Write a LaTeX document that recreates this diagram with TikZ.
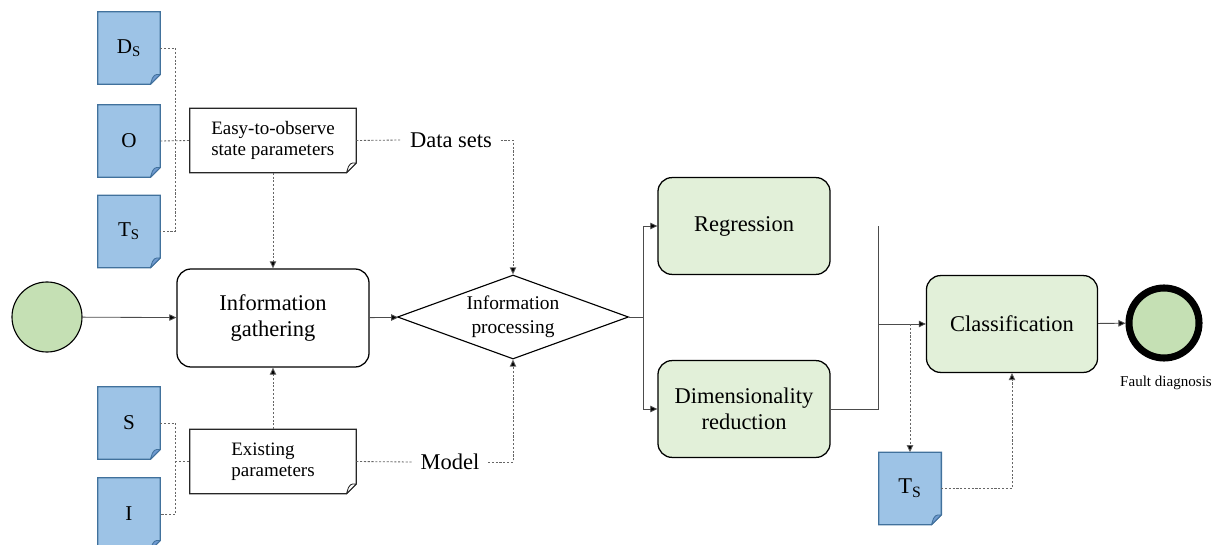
\documentclass[tikz,border=0pt]{standalone}
\usepackage{fontspec}
\setmainfont{Liberation Serif}
\usetikzlibrary{arrows.meta,shapes.geometric,backgrounds}

\definecolor{docfill}{HTML}{9DC3E6}
\definecolor{docline}{HTML}{41719C}
\definecolor{docfold}{HTML}{6F9AD0}
\definecolor{stepfill}{HTML}{E2F0D9}
\definecolor{termfill}{HTML}{C5E0B4}

% page outline with a folded bottom-right corner, drawn behind a named node
\newcommand\pageoutline[5]{% node, fill, line, fold fill, line width
  \filldraw[fill=#2, draw=#3, line width=#5, line join=miter]
    (#1.north west) -- (#1.north east) -- ([yshift=7pt]#1.south east)
    -- ([xshift=-7pt]#1.south east) -- (#1.south west) -- cycle;
  \filldraw[fill=#4, draw=#3, line width=0.6pt, line join=round]
    ([yshift=7pt]#1.south east) -- ([xshift=-7pt]#1.south east)
    -- ([xshift=-5.6pt,yshift=4.4pt]#1.south east)
    .. controls ([xshift=-4pt,yshift=6.6pt]#1.south east) .. ([xshift=-2.5pt,yshift=7pt]#1.south east) -- cycle;
}

\begin{document}
\begin{tikzpicture}[x=0.025cm, y=-0.025cm,
  >={Triangle[length=5pt,width=4.6pt]},
  docnode/.style={minimum width=1.55cm, minimum height=1.8cm, inner sep=0pt,
    font=\fontsize{15}{18}\selectfont},
  notebox/.style={minimum width=4.15cm, minimum height=1.6cm, inner sep=0pt,
    align=left, font=\fontsize{13.5}{15}\selectfont},
  stepbox/.style={draw=black, line width=0.9pt, rounded corners=10pt,
    minimum width=4.3cm, minimum height=2.42cm, align=center,
    font=\fontsize{16}{18.5}\selectfont},
  plainlabel/.style={font=\fontsize{16}{18}\selectfont, inner sep=6pt},
  flow/.style={draw=black!70, line width=0.6pt},
  flowarrow/.style={flow, -{>[fill=black]}},
  noteline/.style={draw=black!60, line width=0.6pt, dash pattern=on 1.5pt off 1.2pt},
  notearrow/.style={noteline, -{>[fill=black]}, shorten >=0pt},
]
\useasboundingbox (0,0) rectangle (1218,545);

% ---- sources on the left ----
\node[docnode] (Ds)  at (129,48)    {D\textsubscript{S}};
\node[docnode] (O)   at (129,141)   {O};
\node[docnode] (Ts1) at (129,231.5) {T\textsubscript{S}};
\node[docnode] (S)   at (129,423)   {S};
\node[docnode] (I)   at (129,514)   {I};

\node[notebox] (easy)  at (273,140.5) {Easy-to-observe\\state parameters};
\node[notebox] (exist) at (273,461.5) {Existing\\parameters};

\node[plainlabel] (dsets) at (451,140) {Data sets};
\node[plainlabel] (model) at (450,462) {Model};

% ---- main flow ----
\node[circle, draw=black, line width=0.8pt, fill=termfill, minimum size=1.75cm,
  inner sep=0pt] (start) at (47,317) {};
\node[stepbox, fill=white, minimum width=4.8cm, minimum height=2.45cm] (gath) at (273,318)
  {Information\\gathering};
\node[diamond, draw=black, line width=0.8pt, aspect=2.75, inner sep=0pt,
  minimum width=5.775cm, minimum height=2.1cm, align=center,
  font=\fontsize{13.8}{17}\selectfont] (proc) at (513,317) {Information\\processing};

\node[stepbox, fill=stepfill] (reg) at (744,226) {Regression};
\node[stepbox, fill=stepfill] (dim) at (744,409) {Dimensionality\\reduction};
\node[stepbox, fill=stepfill, minimum width=4.275cm] (cls) at (1012,324) {Classification};

\node[circle, draw=black, line width=5pt, fill=termfill, minimum size=1.75cm,
  inner sep=0pt] (end) at (1164,323) {};
\node[font=\fontsize{10.7}{12}\selectfont, anchor=north] (fault) at (1166,371)
  {Fault diagnosis};

\node[docnode, font=\fontsize{16}{18}\selectfont] (Ts2) at (910,488.5) {T\textsubscript{S}};

% ---- page outlines behind the text ----
\begin{scope}[on background layer]
  \foreach \n in {Ds,O,Ts1,S,I,Ts2}{\pageoutline{\n}{docfill}{docline}{docfold}{1pt}}
  \pageoutline{easy}{white}{black!85}{white}{0.9pt}
  \pageoutline{exist}{white}{black!85}{white}{0.9pt}
\end{scope}

% ---- dotted links of the data sources ----
\draw[noteline] (Ds.east) -- ++(15,0) coordinate (busA) |- (Ts1.east);
\draw[noteline] (O.east) -- (easy.west);
\draw[noteline] (S.east) -- ++(15,0) coordinate (busB) |- (I.east);
\draw[noteline] (busB |- exist.west) -- (exist.west);

\draw[noteline] (easy.east) -- (dsets.west);
\draw[noteline] (exist.east) -- (model.west);
\draw[notearrow] (dsets.east) -| (proc.north);
\draw[notearrow] (model.east) -| (proc.south);
\draw[notearrow] (easy.south) -- (gath.north);
\draw[notearrow] (exist.north) -- (gath.south);

% ---- solid flow ----
\draw[flowarrow] (start) -- (gath);
\draw[flowarrow] (gath) -- (proc);
\coordinate (split) at (643,317);
\draw[flow] (proc.east) -- (split);
\draw[flowarrow] (split) |- (reg.west);
\draw[flowarrow] (split) |- (dim.west);

\coordinate (mtop) at (878,226);
\draw[flow] (dim.east) -| (mtop);
\draw[flowarrow] (mtop |- cls.west) -- (cls.west);
\draw[flowarrow] (cls) -- (end);

\draw[notearrow] (Ts2.north |- cls.west) -- (Ts2.north);
\draw[notearrow] (Ts2.east) -| (cls.south);
\end{tikzpicture}
\end{document}
